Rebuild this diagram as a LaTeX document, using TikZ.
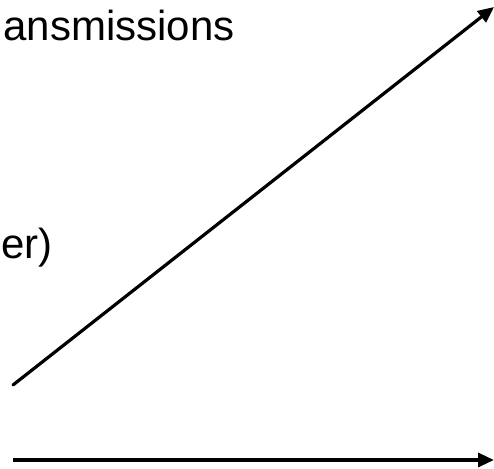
\documentclass[tikz,border=0pt]{standalone}
\usepackage{fontspec}
\setmainfont{Liberation Sans}
\usetikzlibrary{arrows.meta}
\begin{document}
\begin{tikzpicture}[x=0.5pt,y=-0.5pt,
  lbl/.style={inner sep=0pt,anchor=base east,font=\fontsize{21}{25}\selectfont},
  axis/.style={line width=1.6pt,-{Triangle[length=8pt,width=7pt]}}]
\useasboundingbox (0,0) rectangle (494,469);
\node[lbl] (t1) at (235,41) {ansmissions};
\node[lbl] (t2) at (53,259) {er)};
\coordinate (d0) at (13,385);
\coordinate (d1) at (494,7);
\coordinate (h0) at (13,460);
\coordinate (h1) at (494,460);
\draw[axis,line cap=round] (d0) -- (d1);
\draw[axis] (h0) -- (h1);
\end{tikzpicture}
\end{document}
